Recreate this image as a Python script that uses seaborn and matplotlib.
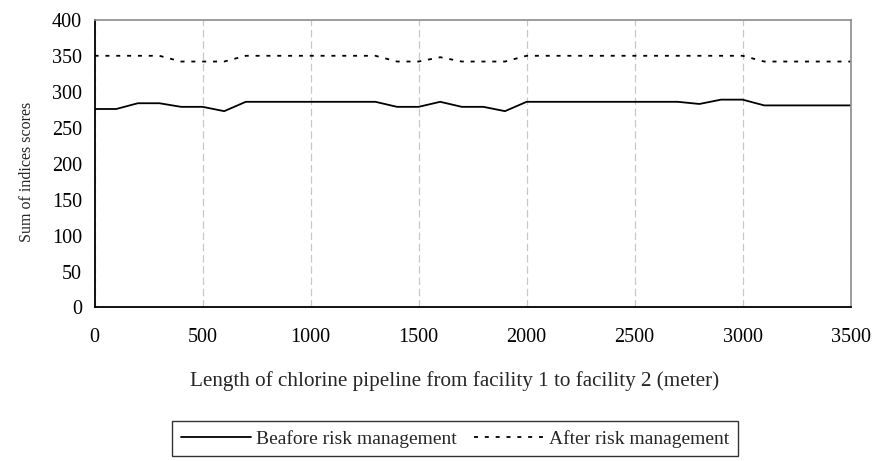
import pandas as pd
import matplotlib
matplotlib.use('Agg')
import matplotlib.pyplot as plt
import seaborn as sns

# Distance along the pipeline (m), one reading every 100 m
length_m = list(range(0, 3600, 100))

# Sum of indices scores before risk management
before_scores = [276, 276, 284, 284, 279, 279, 273,
                 286, 286, 286, 286, 286, 286, 286,
                 279, 279, 286, 279, 279, 273,
                 286, 286, 286, 286, 286, 286, 286, 286,
                 283, 289, 289,
                 281, 281, 281, 281, 281]

# Sum of indices scores after risk management
after_scores = [350, 350, 350, 350, 342, 342, 342,
                350, 350, 350, 350, 350, 350, 350,
                342, 342, 348, 342, 342, 342,
                350, 350, 350, 350, 350, 350, 350, 350, 350, 350, 350,
                342, 342, 342, 342, 342]

x_ticks = list(range(0, 3501, 500))
y_ticks = list(range(0, 401, 50))

series_names = ['Beafore risk management', 'After risk management']

sns.set_style('white')
plt.rcParams['font.family'] = ['Liberation Serif', 'DejaVu Serif']

fig = plt.figure(figsize=(8.76, 4.61), dpi=100)
fig.subplots_adjust(left=0.108, right=0.971, top=0.957, bottom=0.333)
ax = fig.add_subplot(111)

sns.lineplot(x=length_m, y=before_scores, color='black', linewidth=1.3,
             label=series_names[0], ax=ax, legend=False)
sns.lineplot(x=length_m, y=after_scores, color='black', linewidth=1.3,
             linestyle=(0, (2.2, 3.8)), label=series_names[1], ax=ax, legend=False)

ax.set_xlim(0, 3500)
ax.set_ylim(0, 400)
ax.set_xticks(x_ticks)
ax.set_yticks(y_ticks)

ax.set_axisbelow(True)
ax.grid(axis='x', color='#c8c8c8', linestyle=(0, (6, 3)), linewidth=0.9)
ax.grid(axis='y', visible=False)

for side in ['left', 'bottom']:
    ax.spines[side].set_color('black')
    ax.spines[side].set_linewidth(1.3)
for side in ['top', 'right']:
    ax.spines[side].set_color('#8c8c8c')
    ax.spines[side].set_linewidth(1.2)

ax.tick_params(axis='both', direction='out', length=4, width=1,
               colors='black', labelsize=14.5)
ax.tick_params(axis='x', pad=11)
ax.tick_params(axis='y', pad=5)

ax.set_xlabel('Length of chlorine pipeline from facility 1 to facility 2 (meter)',
              fontsize=15.2)
ax.set_ylabel('Sum of indices scores', fontsize=11.5)
ax.xaxis.set_label_coords((455 - 94.7) / 756, -0.22)
ax.yaxis.set_label_coords(-0.079, 0.471)

handles, labels = ax.get_legend_handles_labels()
leg = fig.legend(handles, labels, loc='upper center',
                 bbox_to_anchor=(455 / 876, 1 - 421 / 461), ncol=2, fontsize=14,
                 frameon=True, fancybox=False, handlelength=3.6,
                 handletextpad=0.25, columnspacing=0.9, borderpad=0.45,
                 borderaxespad=0)
leg.get_frame().set_edgecolor('black')
leg.get_frame().set_linewidth(1.0)

fig.savefig('out.png', dpi=100)
